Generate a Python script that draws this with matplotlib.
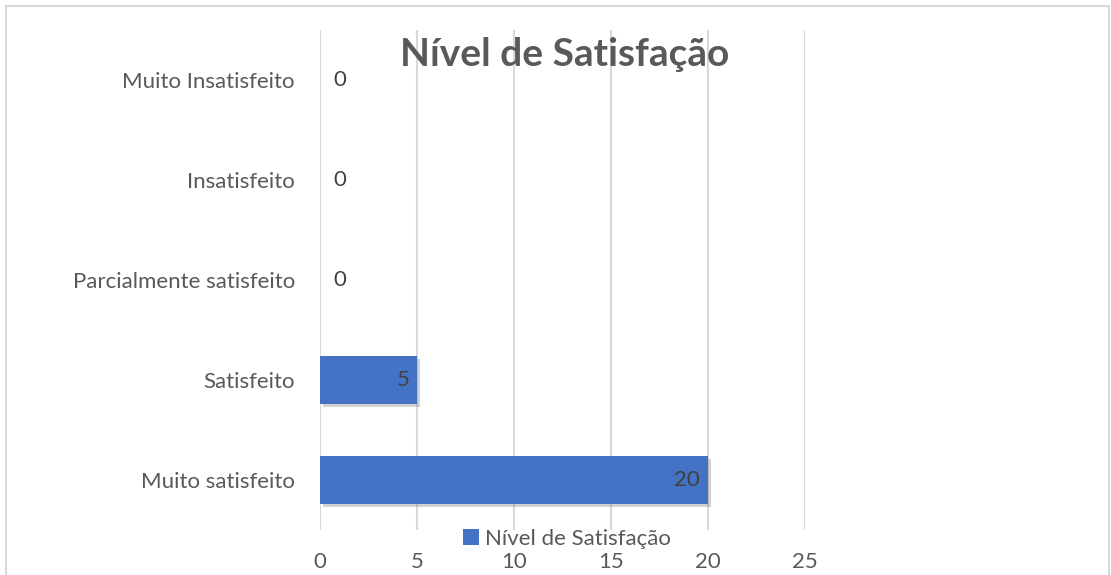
"""Nivel de Satisfacao - horizontal bar chart"""
import matplotlib.pyplot as plt
import matplotlib.patheffects as pe
from matplotlib.patches import Rectangle

CATEGORIES = ["Muito satisfeito", "Satisfeito", "Parcialmente satisfeito",
              "Insatisfeito", "Muito Insatisfeito"]
VALUES = [20, 5, 0, 0, 0]
SERIES = "Nível de Satisfação"
XTICKS = [0, 5, 10, 15, 20, 25]

plt.rcParams['font.family'] = ['Lato', 'DejaVu Sans']
TEXT = "#595959"
BLUE = "#4472C4"

fig = plt.figure(figsize=(11.11, 5.75), dpi=100)
W, H = 1111, 575
ax = fig.add_axes([320 / W, 1 - 530 / H, (805 - 320) / W, 500 / H])

# chart border
fig.add_artist(Rectangle((6 / W, -0.05), (1109 - 6) / W, 1.05 - 6 / H,
                         transform=fig.transFigure, fill=False,
                         edgecolor="#d9d9d9", linewidth=1.5))

bars = ax.barh(range(len(CATEGORIES)), VALUES, height=0.48, color=BLUE,
               label=SERIES, zorder=3,
               path_effects=[pe.SimplePatchShadow(offset=(2, -2), shadow_rgbFace='gray',
                                                  alpha=0.35), pe.Normal()])
for i, v in enumerate(VALUES):
    if v > 0:
        ax.text(v - 0.4, i, str(v), ha='right', va='center', fontsize=16,
                color="#404040", zorder=4)
    else:
        ax.text(0.7, i, str(v), ha='left', va='center', fontsize=16,
                color="#404040", zorder=4)

ax.set_xlim(0, 25)
ax.set_ylim(-0.5, len(CATEGORIES) - 0.5)
ax.set_xticks(XTICKS)
ax.set_yticks(range(len(CATEGORIES)))
ax.set_yticklabels(CATEGORIES)
ax.tick_params(axis='both', length=0, labelsize=16, colors=TEXT)
ax.tick_params(axis='y', pad=18)
ax.tick_params(axis='x', pad=16)
ax.grid(axis='x', color="#d9d9d9", linewidth=1.5, zorder=5)
ax.set_axisbelow(False)
for s in ax.spines.values():
    s.set_visible(False)

fig.text(565 / W, 1 - 55 / H, "Nível de Satisfação", ha='center', va='center',
         fontsize=28, fontweight='bold', color=TEXT, zorder=1)

leg = fig.legend(loc='center', bbox_to_anchor=(567 / W, 1 - 539 / H),
                 frameon=False, fontsize=16, handlelength=0.7, handleheight=0.7,
                 handletextpad=0.3, labelcolor=TEXT)
for h in leg.legend_handles:
    h.set_path_effects([])

fig.savefig("out.png", dpi=100)
